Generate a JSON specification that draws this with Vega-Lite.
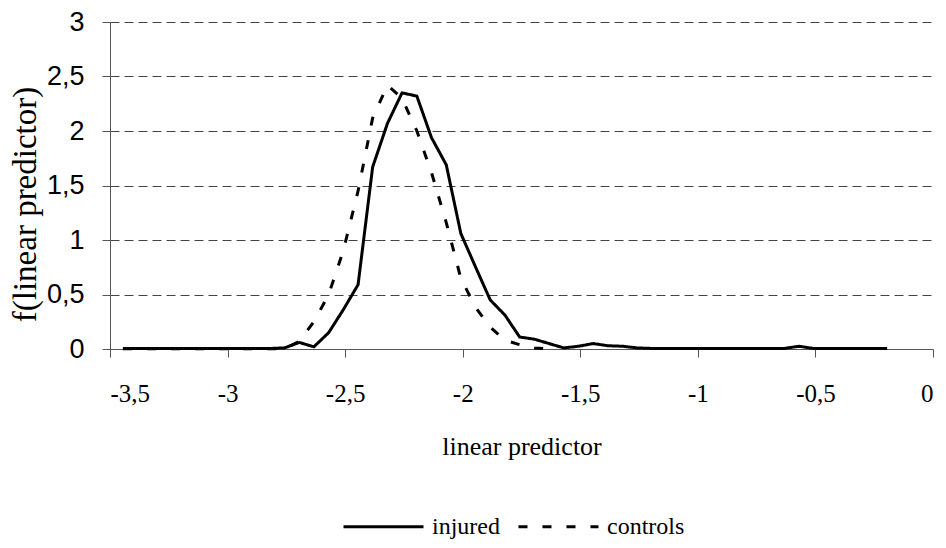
{
  "$schema": "https://vega.github.io/schema/vega-lite/v6.json",
  "autosize": {"type": "none"},
  "width": 823,
  "height": 327,
  "padding": {"left": 110, "top": 22, "right": 13, "bottom": 199},
  "background": "white",
  "config": {
    "view": {"stroke": null},
    "axis": {"labelColor": "black", "titleColor": "black", "domainColor": "#555", "tickColor": "#555", "titleFontWeight": "normal"}
  },
  "data": {
    "values": [
      {"series": "injured", "x": -3.445, "y": 0.005},
      {"series": "injured", "x": -3.383, "y": 0.005},
      {"series": "injured", "x": -3.32, "y": 0.005},
      {"series": "injured", "x": -3.258, "y": 0.005},
      {"series": "injured", "x": -3.195, "y": 0.005},
      {"series": "injured", "x": -3.133, "y": 0.005},
      {"series": "injured", "x": -3.07, "y": 0.005},
      {"series": "injured", "x": -3.008, "y": 0.005},
      {"series": "injured", "x": -2.945, "y": 0.005},
      {"series": "injured", "x": -2.883, "y": 0.005},
      {"series": "injured", "x": -2.82, "y": 0.005},
      {"series": "injured", "x": -2.758, "y": 0.01},
      {"series": "injured", "x": -2.695, "y": 0.06},
      {"series": "injured", "x": -2.633, "y": 0.02},
      {"series": "injured", "x": -2.57, "y": 0.15},
      {"series": "injured", "x": -2.508, "y": 0.36},
      {"series": "injured", "x": -2.445, "y": 0.59},
      {"series": "injured", "x": -2.383, "y": 1.67},
      {"series": "injured", "x": -2.32, "y": 2.07},
      {"series": "injured", "x": -2.258, "y": 2.35},
      {"series": "injured", "x": -2.195, "y": 2.32},
      {"series": "injured", "x": -2.133, "y": 1.94},
      {"series": "injured", "x": -2.07, "y": 1.69},
      {"series": "injured", "x": -2.008, "y": 1.06},
      {"series": "injured", "x": -1.945, "y": 0.75},
      {"series": "injured", "x": -1.883, "y": 0.45},
      {"series": "injured", "x": -1.82, "y": 0.31},
      {"series": "injured", "x": -1.758, "y": 0.11},
      {"series": "injured", "x": -1.695, "y": 0.09},
      {"series": "injured", "x": -1.633, "y": 0.05},
      {"series": "injured", "x": -1.57, "y": 0.01},
      {"series": "injured", "x": -1.508, "y": 0.025},
      {"series": "injured", "x": -1.445, "y": 0.05},
      {"series": "injured", "x": -1.383, "y": 0.03},
      {"series": "injured", "x": -1.32, "y": 0.025},
      {"series": "injured", "x": -1.258, "y": 0.01},
      {"series": "injured", "x": -1.195, "y": 0.005},
      {"series": "injured", "x": -1.133, "y": 0.005},
      {"series": "injured", "x": -1.07, "y": 0.005},
      {"series": "injured", "x": -1.008, "y": 0.005},
      {"series": "injured", "x": -0.945, "y": 0.005},
      {"series": "injured", "x": -0.883, "y": 0.005},
      {"series": "injured", "x": -0.82, "y": 0.005},
      {"series": "injured", "x": -0.758, "y": 0.005},
      {"series": "injured", "x": -0.695, "y": 0.005},
      {"series": "injured", "x": -0.633, "y": 0.005},
      {"series": "injured", "x": -0.57, "y": 0.025},
      {"series": "injured", "x": -0.508, "y": 0.005},
      {"series": "injured", "x": -0.445, "y": 0.005},
      {"series": "injured", "x": -0.383, "y": 0.005},
      {"series": "injured", "x": -0.32, "y": 0.005},
      {"series": "injured", "x": -0.258, "y": 0.005},
      {"series": "injured", "x": -0.195, "y": 0.005},
      {"series": "controls", "x": -3.445, "y": 0.003},
      {"series": "controls", "x": -3.383, "y": 0.003},
      {"series": "controls", "x": -3.32, "y": 0.003},
      {"series": "controls", "x": -3.258, "y": 0.003},
      {"series": "controls", "x": -3.195, "y": 0.003},
      {"series": "controls", "x": -3.133, "y": 0.003},
      {"series": "controls", "x": -3.07, "y": 0.003},
      {"series": "controls", "x": -3.008, "y": 0.003},
      {"series": "controls", "x": -2.945, "y": 0.003},
      {"series": "controls", "x": -2.883, "y": 0.003},
      {"series": "controls", "x": -2.82, "y": 0.003},
      {"series": "controls", "x": -2.758, "y": 0.003},
      {"series": "controls", "x": -2.695, "y": 0.07},
      {"series": "controls", "x": -2.633, "y": 0.25},
      {"series": "controls", "x": -2.57, "y": 0.5},
      {"series": "controls", "x": -2.508, "y": 0.9},
      {"series": "controls", "x": -2.445, "y": 1.45},
      {"series": "controls", "x": -2.383, "y": 2.12},
      {"series": "controls", "x": -2.32, "y": 2.42},
      {"series": "controls", "x": -2.258, "y": 2.3},
      {"series": "controls", "x": -2.195, "y": 2.0},
      {"series": "controls", "x": -2.133, "y": 1.62},
      {"series": "controls", "x": -2.07, "y": 1.16},
      {"series": "controls", "x": -2.008, "y": 0.65},
      {"series": "controls", "x": -1.945, "y": 0.38},
      {"series": "controls", "x": -1.883, "y": 0.2},
      {"series": "controls", "x": -1.82, "y": 0.08},
      {"series": "controls", "x": -1.758, "y": 0.04},
      {"series": "controls", "x": -1.695, "y": 0.01},
      {"series": "controls", "x": -1.633, "y": 0.0}
    ]
  },
  "mark": {"type": "line", "strokeWidth": 3, "color": "black", "strokeCap": "butt", "strokeJoin": "miter"},
  "encoding": {
    "x": {
      "field": "x", "type": "quantitative",
      "scale": {"domain": [-3.5, 0], "nice": false, "zero": false},
      "axis": {
        "values": [-3.5, -3, -2.5, -2, -1.5, -1, -0.5, 0],
        "labelExpr": "replace(datum.value + '', '.', ',')",
        "grid": false, "tickSize": 8, "labelPadding": 24,
        "labelFont": "Liberation Serif, Times New Roman, serif", "labelFontSize": 25,
        "title": "linear predictor", "titleFont": "Liberation Serif, Times New Roman, serif", "titleFontSize": 26,
        "titleY": 97, "titleBaseline": "middle"
      }
    },
    "y": {
      "field": "y", "type": "quantitative",
      "scale": {"domain": [0, 3], "nice": false},
      "axis": {
        "values": [0, 0.5, 1, 1.5, 2, 2.5, 3],
        "labelExpr": "replace(datum.value + '', '.', ',')",
        "grid": true, "gridDash": [9, 5], "gridColor": "#444", "gridWidth": 1,
        "tickSize": 8, "labelPadding": 18,
        "labelFont": "Liberation Sans, Arial, sans-serif", "labelFontSize": 27, "labelBaseline": "middle",
        "title": "f(linear predictor)", "titleFont": "Liberation Serif, Times New Roman, serif", "titleFontSize": 33,
        "titleAngle": -90, "titleX": -85, "titleY": 182, "titleAlign": "center", "titleBaseline": "middle"
      }
    },
    "strokeDash": {
      "field": "series", "type": "nominal",
      "scale": {"domain": ["injured", "controls"], "range": [[1, 0], [9, 15]]},
      "legend": {
        "title": null, "orient": "none", "direction": "horizontal",
        "legendX": 232, "legendY": 463, "padding": 0,
        "symbolType": "stroke", "symbolSize": 6400, "symbolStrokeWidth": 3, "symbolStrokeColor": "black",
        "labelFont": "Liberation Serif, Times New Roman, serif", "labelFontSize": 24, "labelColor": "black", "labelOffset": 7,
        "columnPadding": 12
      }
    }
  }
}
